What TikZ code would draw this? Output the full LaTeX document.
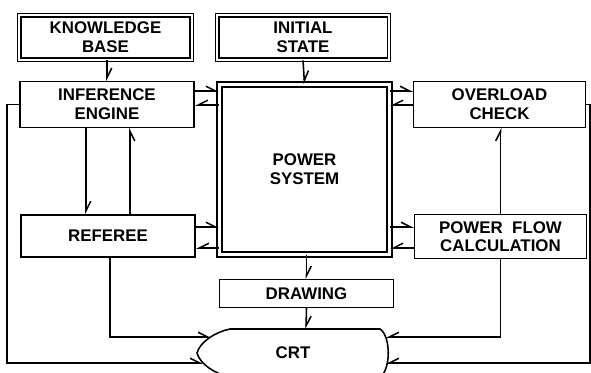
\documentclass[tikz,border=0pt]{standalone}
\usepackage{fontspec}
\setmainfont{Liberation Sans}
\usetikzlibrary{arrows.meta}

\begin{document}
\begin{tikzpicture}[
  x=0.025cm, y=-0.025cm,
  blk/.style={
    rectangle, draw, line width=1.1pt, inner sep=0pt,
    align=center, font=\fontsize{12}{13.5}\selectfont\bfseries
  },
  dbl/.style={blk, line width=1pt, double, double distance=1.3pt},
  arr/.style={-{Straight Barb[harpoon, length=2.4mm, width=2.4mm]}, line width=1.1pt},
  arrl/.style={-{Straight Barb[harpoon, swap, length=2.4mm, width=2.4mm]}, line width=1.1pt}
]
\useasboundingbox (0,0) rectangle (591,373);

% ---- Boxes ----
\node[dbl] (kb) at (105.5,37.5) [minimum width=4.31cm, minimum height=1.11cm] {KNOWLEDGE\\BASE};
\node[dbl] (is) at (303,37.5)   [minimum width=4.29cm, minimum height=1.11cm]   {INITIAL\\STATE};
\node[blk] (ie) at (107,104.5)  [minimum width=4.36cm, minimum height=1.14cm]  {INFERENCE\\ENGINE};
\node[dbl, double distance=2.8pt] (ps) at (304.5,169.5) [minimum width=4.25cm, minimum height=4.25cm] {POWER\\SYSTEM};
\node[blk] (oc) at (499.5,104.5) [minimum width=4.29cm, minimum height=1.14cm]   {OVERLOAD\\CHECK};
\node[blk] (rf) at (108,236)    [minimum width=4.36cm, minimum height=1.06cm] {REFEREE};
\node[blk, font=\fontsize{12}{12.5}\selectfont\bfseries] (pf) at (500.5,236.5) [minimum width=4.29cm, minimum height=1.09cm] {POWER\ \ FLOW\\CALCULATION};
\node[blk] (dr) at (306.5,293.5) [minimum width=4.34cm, minimum height=0.69cm]   {DRAWING};

% ---- CRT ----
\node[font=\fontsize{12}{13.5}\selectfont\bfseries] (crt) at (293,353) {CRT};
\draw[line width=1.1pt] (230,329) -- (380,329)
  .. controls (391,336) and (391,370) .. (380,377) -- (230,377)
  .. controls (215,374) and (200,364) .. (197,353)
  .. controls (200,342) and (215,332) .. cycle;
\coordinate (crttop) at (306,329);
\coordinate (crtl1) at (211,337);
\coordinate (crtl2) at (203,363);
\coordinate (crtr1) at (386,337);
\coordinate (crtr2) at (386,363);
\coordinate (lft) at (7,363);
\coordinate (rgt) at (590,363);

% ---- Arrows ----
\draw[arr] (kb.south -| 107,0) -- (ie.north -| 107,0);
\draw[arr] (is.south) -- (ps.north);
\draw[arr] (ie.east |- 0,91) -- (ps.west |- 0,91);
\draw[arrl] (ps.west |- 0,105) -- (ie.east |- 0,105);
\draw[arr] (ps.east |- 0,91) -- (oc.west |- 0,91);
\draw[arrl] (oc.west |- 0,105) -- (ps.east |- 0,105);
\draw[arr] (rf.east |- 0,227) -- (ps.west |- 0,227);
\draw[arrl] (ps.west |- 0,248) -- (rf.east |- 0,248);
\draw[arr] (ps.east |- 0,227) -- (pf.west |- 0,227);
\draw[arrl] (pf.west |- 0,248) -- (ps.east |- 0,248);

\draw[arr] (ie.south -| 86,0) -- (rf.north -| 86,0);
\draw[arrl] (rf.north -| 130,0) -- (ie.south -| 130,0);
\draw[arr] (pf.north) -- (oc.south -| pf.north);

\draw[arr] (ps.south -| dr.north) -- (dr.north);
\draw[arr] (dr.south) -- (crttop);
\draw[arr] (rf.south -| 110,0) |- (crtl1);
\draw[arr] (ie.west) -- (ie.west -| lft) |- (crtl2);
\draw[arrl] (pf.south) |- (crtr1);
\draw[arrl] (oc.east) -| (rgt) -- (crtr2);

\end{tikzpicture}
\end{document}
